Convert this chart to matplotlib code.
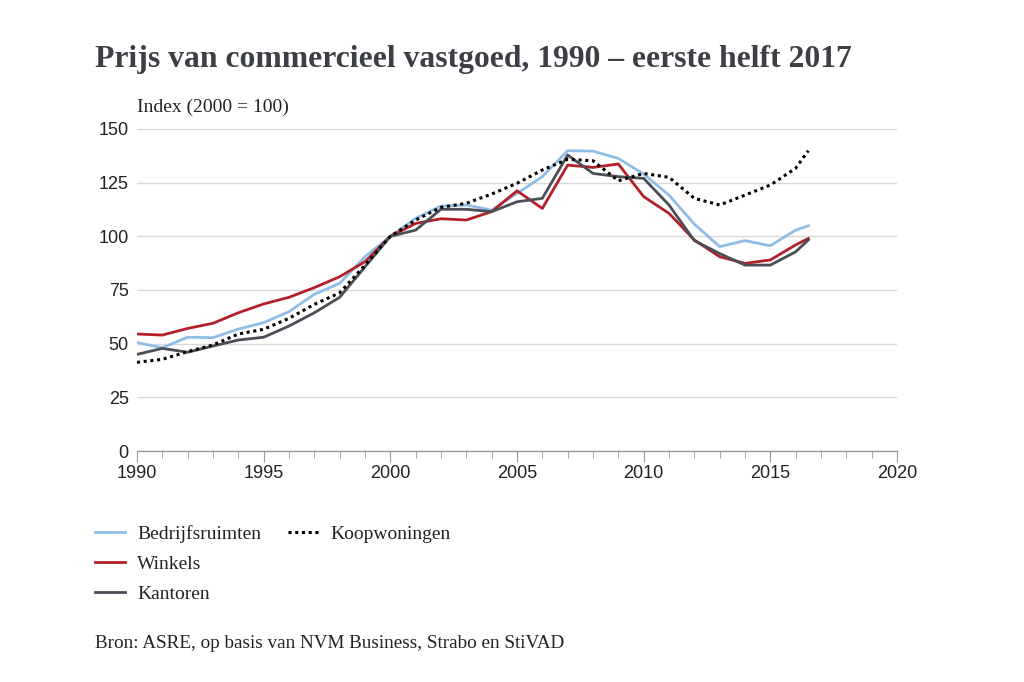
import matplotlib.pyplot as plt
from matplotlib.lines import Line2D
from matplotlib.ticker import MultipleLocator

years = list(range(1990, 2017)) + [2016.5]

bedrijfsruimten = [50.5, 48.1, 53.0, 52.8, 56.8, 59.8, 64.9, 73.0, 78.1, 90.5,
                   100.0, 108.4, 114.1, 114.6, 112.2, 120.0, 127.8, 139.9, 139.7, 136.3,
                   129.0, 119.2, 105.7, 95.2, 98.0, 95.6, 102.9, 104.9]
winkels = [54.5, 54.0, 57.1, 59.5, 64.4, 68.5, 71.6, 76.1, 81.2, 88.2,
           100.0, 106.0, 108.2, 107.6, 111.5, 121.2, 113.0, 133.2, 132.1, 133.7,
           118.5, 110.7, 98.3, 90.5, 87.4, 89.0, 96.0, 99.0]
kantoren = [45.0, 47.8, 46.0, 48.9, 51.7, 53.0, 58.2, 64.4, 71.6, 85.8,
            100.0, 102.9, 112.6, 112.6, 111.5, 116.1, 117.7, 137.9, 129.3, 127.8,
            127.0, 114.6, 98.0, 92.0, 86.6, 86.6, 92.8, 98.3]
koopwoningen = [41.3, 42.7, 46.3, 49.4, 54.5, 56.7, 61.8, 68.3, 73.7, 86.6,
                100.0, 107.6, 113.5, 115.4, 119.7, 124.7, 130.9, 135.9, 135.2, 125.9,
                129.3, 127.5, 117.7, 114.6, 119.2, 123.9, 131.7, 139.9]

blue = '#8fbde6'
red = '#b3202a'
grey = '#4a4e56'
text_col = '#3c3f45'

fig = plt.figure(figsize=(10.24, 6.82), dpi=100)
ax = fig.add_axes([137 / 1024, 1 - 451 / 682, 760 / 1024, 322 / 682])

ax.plot(years, bedrijfsruimten, color=blue, lw=2.0, label='Bedrijfsruimten')
ax.plot(years, winkels, color=red, lw=2.0, label='Winkels')
ax.plot(years, kantoren, color=grey, lw=2.0, label='Kantoren')
ax.plot(years, koopwoningen, color='black', lw=2.2, linestyle=(0, (1, 1.2)),
        label='Koopwoningen')

ax.set_xlim(1990, 2020)
ax.set_ylim(0, 150)
ax.xaxis.set_major_locator(MultipleLocator(5))
ax.xaxis.set_minor_locator(MultipleLocator(1))
ax.yaxis.set_major_locator(MultipleLocator(25))

for s in ['top', 'right', 'left']:
    ax.spines[s].set_visible(False)
ax.spines['bottom'].set_color('#9a9a9a')
ax.spines['bottom'].set_linewidth(1.0)
ax.grid(axis='y', color='#d9d9d9', lw=1.0)
ax.set_axisbelow(True)

ax.tick_params(axis='x', which='major', length=8, color='#9a9a9a', labelsize=13,
               labelcolor='#222222', pad=2)
ax.tick_params(axis='x', which='minor', length=5, color='#9a9a9a')
ax.tick_params(axis='y', length=0, labelsize=13, labelcolor='#222222', pad=6)
for lab in ax.get_xticklabels() + ax.get_yticklabels():
    lab.set_fontfamily('Liberation Sans')

fig.text(95 / 1024, 1 - 60 / 682, 'Prijs van commercieel vastgoed, 1990 \u2013 eerste helft 2017',
         fontsize=22.8, fontweight='bold', family='Liberation Serif', color=text_col,
         va='center', ha='left')
fig.text(137 / 1024, 1 - 107 / 682, 'Index (2000 = 100)', fontsize=14,
         family='Liberation Serif', color='#222222', va='center', ha='left')

h = ax.get_legend_handles_labels()[0]
blank = Line2D([], [], color='none')
handles = [h[0], h[1], h[2], h[3], blank, blank]
labels = ['Bedrijfsruimten', 'Winkels', 'Kantoren', 'Koopwoningen', '', '']
fig.legend(handles, labels, loc='upper left', bbox_to_anchor=(95 / 1024, 1 - 525 / 682),
           ncol=2, frameon=False, prop={'family': 'Liberation Serif', 'size': 14},
           handlelength=1.55, handletextpad=0.62, columnspacing=1.4, labelspacing=0.64,
           borderpad=0, borderaxespad=0, labelcolor='#222222')

fig.text(95 / 1024, 1 - 643 / 682, 'Bron: ASRE, op basis van NVM Business, Strabo en StiVAD',
         fontsize=13.8, family='Liberation Serif', color='#222222', va='center', ha='left')

fig.savefig('out.png', dpi=100, facecolor='white')
